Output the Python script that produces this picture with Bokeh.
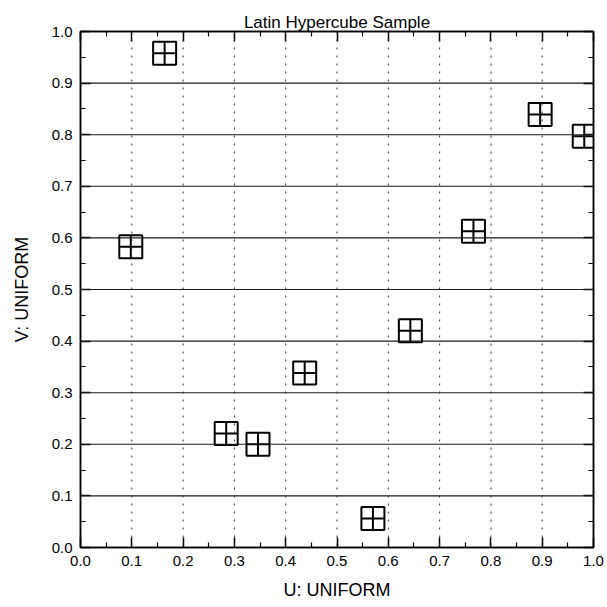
from bokeh.plotting import figure
from bokeh.models import FixedTicker, LinearAxis, Range1d, Span
from bokeh.embed import file_html
from bokeh.resources import INLINE

# Data
u_values = [0.164, 0.098, 0.284, 0.346, 0.437, 0.570, 0.643, 0.766, 0.896, 0.982]
v_values = [0.958, 0.583, 0.221, 0.200, 0.338, 0.056, 0.420, 0.613, 0.839, 0.797]

major_ticks = [0.0, 0.1, 0.2, 0.3, 0.4, 0.5, 0.6, 0.7, 0.8, 0.9, 1.0]
minor_ticks = [0.05, 0.15, 0.25, 0.35, 0.45, 0.55, 0.65, 0.75, 0.85, 0.95]
tick_labels = ["0.0", "0.1", "0.2", "0.3", "0.4", "0.5", "0.6", "0.7", "0.8", "0.9", "1.0"]

title_text = "Latin Hypercube Sample"
x_title = "U: UNIFORM"
y_title = "V: UNIFORM"

FONT = "Liberation Sans"

p = figure(width=607, height=607, x_range=Range1d(0, 1), y_range=Range1d(0, 1),
           output_backend="svg", toolbar_location=None,
           min_border_left=80, min_border_right=14, min_border_top=31, min_border_bottom=60,
           x_axis_location=None, y_axis_location=None)
p.background_fill_color = "white"
p.border_fill_color = "white"
p.outline_line_color = "black"
p.outline_line_width = 1.5

p.title.text = title_text
p.title.text_font = FONT
p.title.text_font_style = "normal"
p.title.text_font_size = "17px"
p.title.text_color = "black"
p.title.align = "center"
p.title.offset = 0
p.title.standoff = 0

labels = {t: l for t, l in zip(major_ticks, tick_labels)}

def make_axis(show_labels, label=None):
    ax = LinearAxis(ticker=FixedTicker(ticks=major_ticks, minor_ticks=minor_ticks))
    ax.major_tick_in = 10
    ax.major_tick_out = 0
    ax.minor_tick_in = 5
    ax.minor_tick_out = 0
    ax.axis_line_width = 1.5
    ax.major_tick_line_width = 1.5
    ax.minor_tick_line_width = 1.2
    ax.axis_line_color = "black"
    ax.major_tick_line_color = "black"
    ax.minor_tick_line_color = "black"
    if show_labels:
        ax.major_label_overrides = labels
        ax.major_label_text_font = FONT
        ax.major_label_text_font_size = "15px"
        ax.major_label_text_color = "black"
    else:
        ax.major_label_text_font_size = "0px"
        ax.major_label_text_color = None
        ax.major_label_standoff = 0
    if label:
        ax.axis_label = label
        ax.axis_label_text_font = FONT
        ax.axis_label_text_font_size = "18px"
        ax.axis_label_text_font_style = "normal"
        ax.axis_label_text_color = "black"
    return ax

bottom = make_axis(True, x_title)
bottom.major_label_standoff = 8
bottom.axis_label_standoff = 11
left = make_axis(True, y_title)
left.major_label_standoff = 8
left.axis_label_standoff = 17
top = make_axis(False)
right = make_axis(False)

p.add_layout(bottom, "below")
p.add_layout(left, "left")
p.add_layout(top, "above")
p.add_layout(right, "right")

p.xgrid.visible = False
p.ygrid.visible = False

# horizontal solid grid lines and vertical dotted grid lines at each tick
for t in major_ticks[1:-1]:
    p.add_layout(Span(location=t, dimension="width", line_color="#1a1a1a",
                      line_width=1.1))
    p.add_layout(Span(location=t, dimension="height", line_color="#333333",
                      line_width=1, line_dash="2 6"))

p.scatter(u_values, v_values, marker="square_cross", size=23,
          fill_color=None, line_color="black", line_width=2)

open("out.html", "w").write(file_html(p, INLINE))
